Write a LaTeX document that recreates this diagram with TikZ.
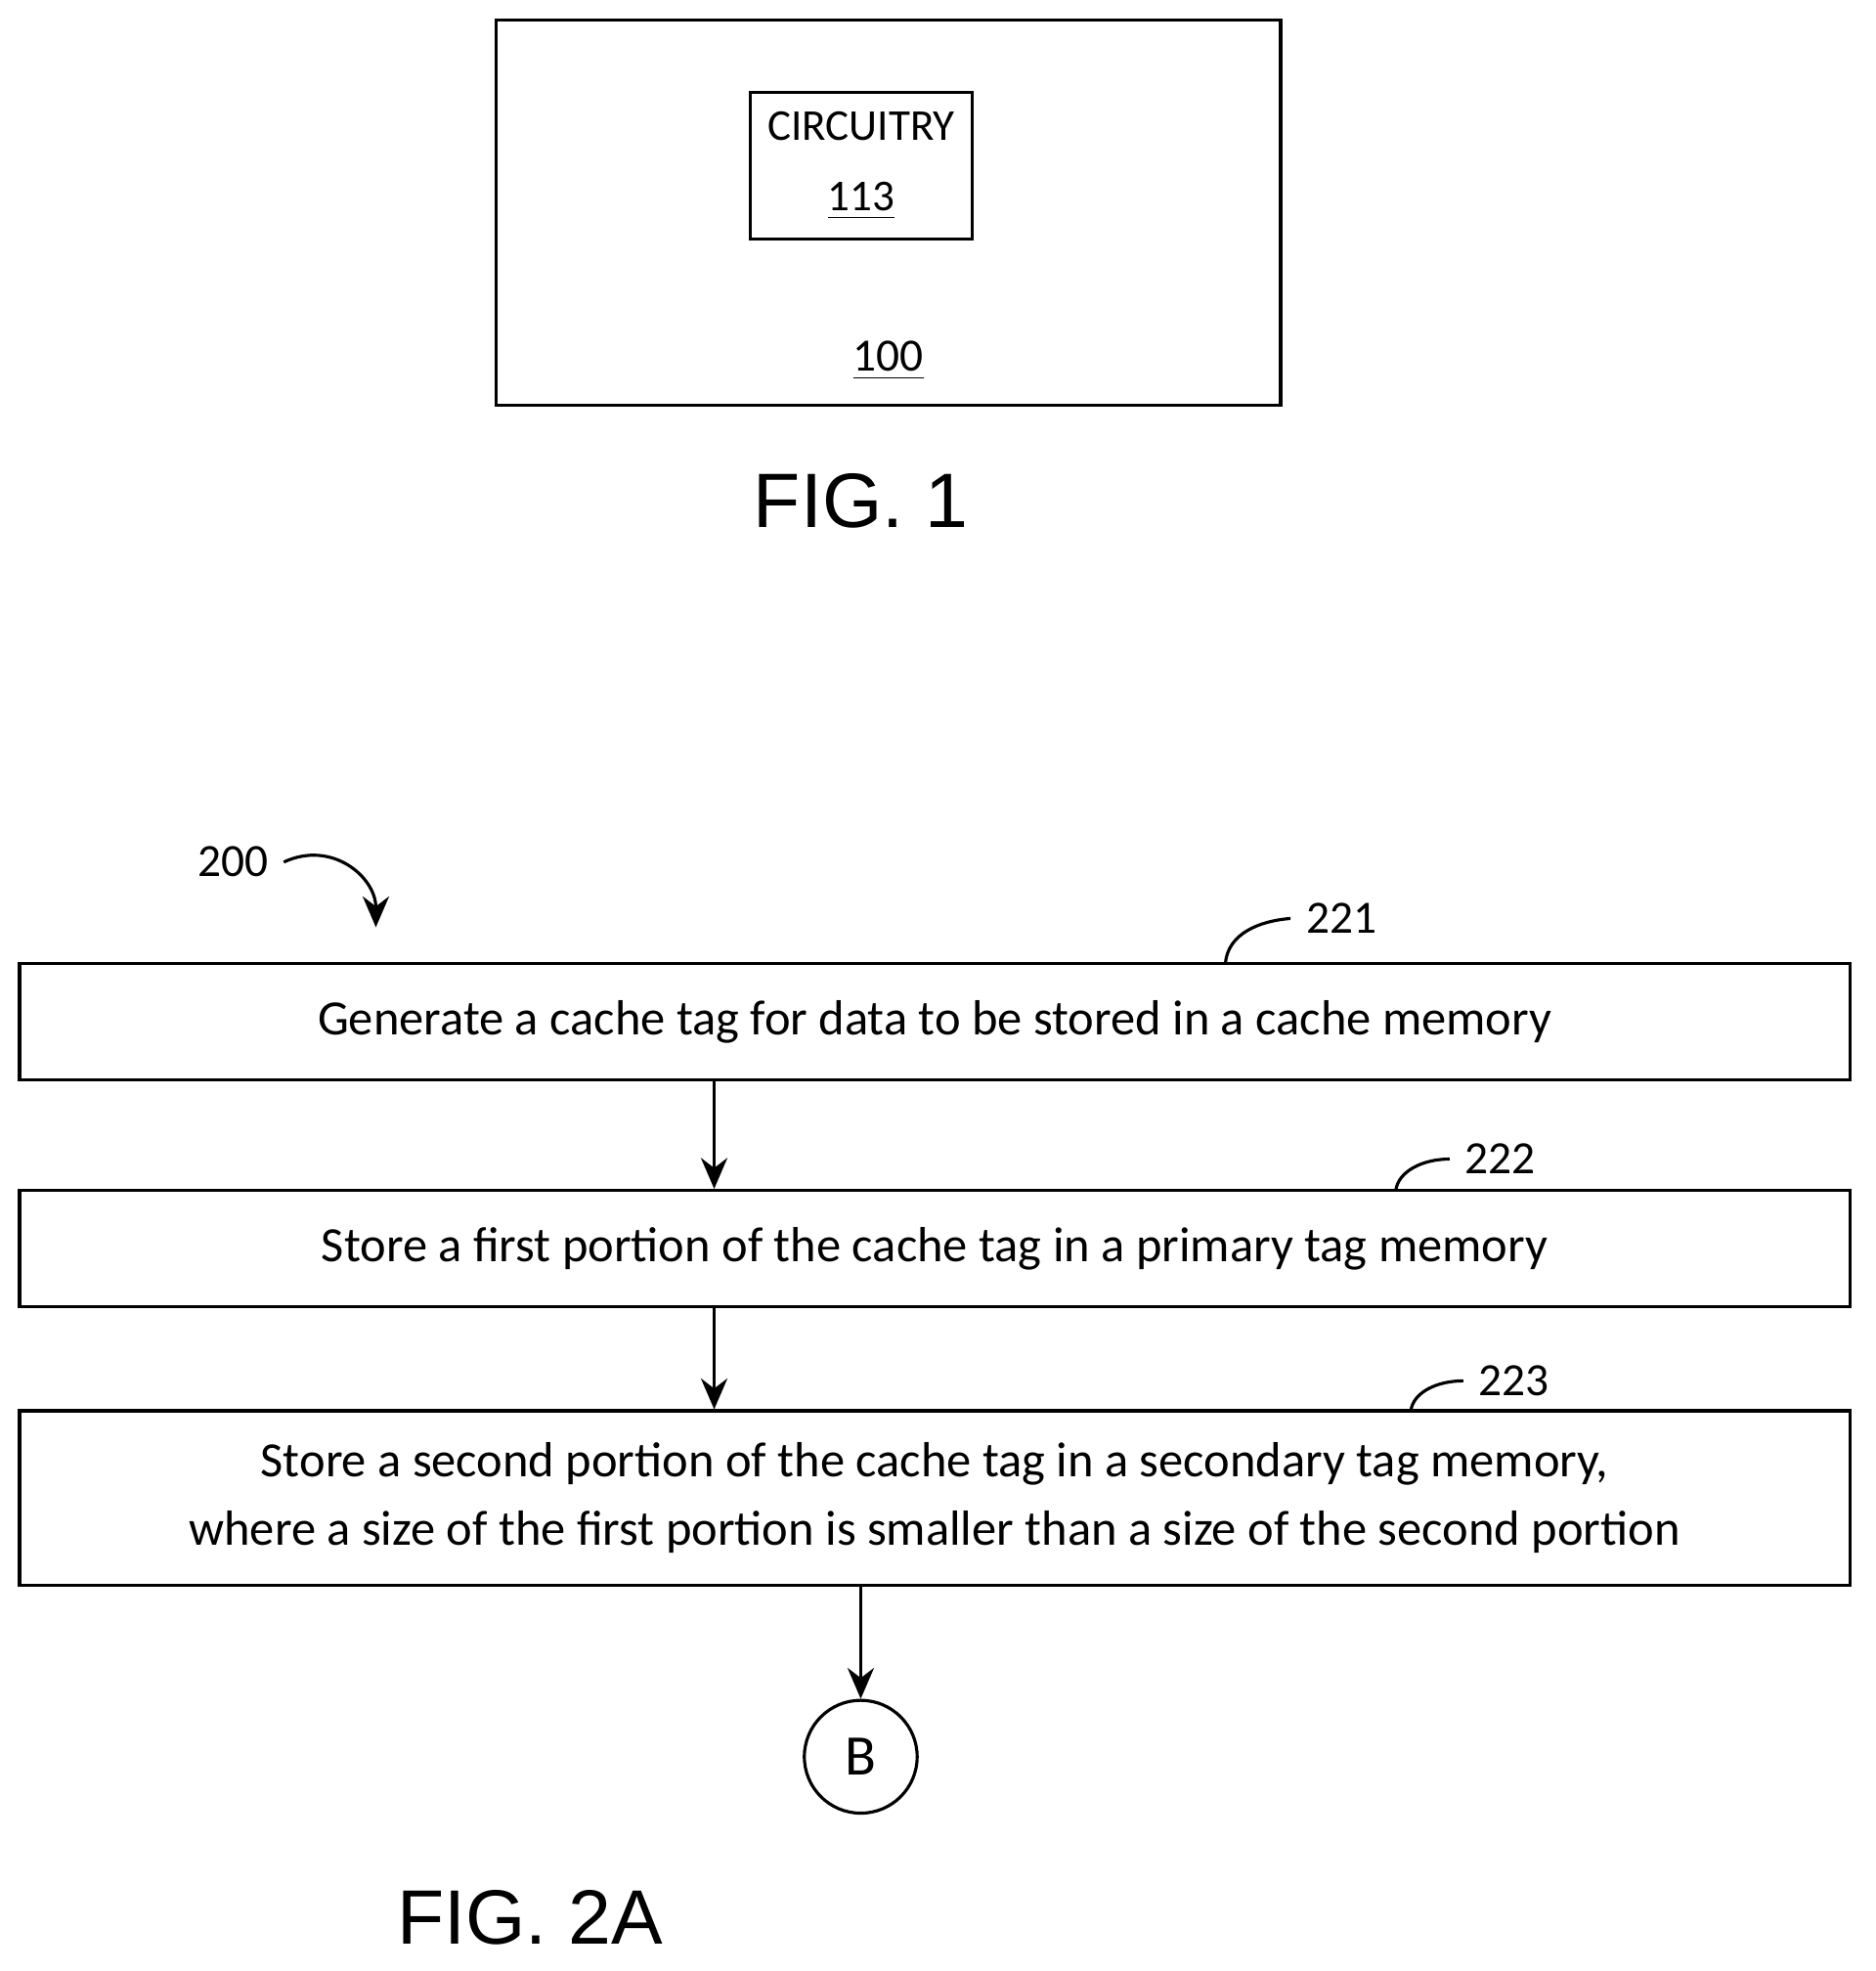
\documentclass[tikz,border=0pt]{standalone}
\usepackage{fontspec}
\setmainfont{Carlito}
\newfontfamily\figfont{Liberation Sans}
\usetikzlibrary{arrows.meta,positioning}

\begin{document}
\begin{tikzpicture}[
    x=0.01cm, y=-0.01cm,
    box/.style={rectangle, draw, line width=0.7pt, inner sep=0pt},
    flowstep/.style={box, minimum width=14.6cm, font=\fontsize{11.2}{15.5}\selectfont, align=center},
    ref/.style={font=\fontsize{10.5}{12}\selectfont},
    figlabel/.style={font=\figfont\fontsize{17.5}{20}\selectfont},
    arrow/.style={-{Stealth[length=7pt,width=6pt]}, line width=0.7pt},
    hook/.style={line width=0.7pt}
]
\useasboundingbox (0,0) rectangle (1497,1573);

% FIG. 1
\node[box, minimum width=6.26cm, minimum height=3.07cm] (device) at (709,169.5) {};
\node[ref] (devlbl) at (709,288) {\underline{100}};
\node[box, minimum width=1.77cm, minimum height=1.17cm, align=center, font=\fontsize{10}{16}\selectfont] (circuitry) at (687.5,132.5) {CIRCUITRY\\\underline{113}};
\node[figlabel] (fig1) at (687,400) {FIG. 1};

% FIG. 2A flow
\node[ref] (flow) at (186,688) {200};
\coordinate (flowend) at (300,740);
\draw[arrow] (flow.east) .. controls (265,670) and (300,700) .. (flowend);

\node[flowstep, minimum height=0.93cm] (gen) at (746,815.5) {Generate a cache tag for data to be stored in a cache memory};
\node[flowstep, minimum height=0.93cm] (first) at (746,996.5) {Store a first portion of the cache tag in a primary tag memory};
\node[flowstep, minimum height=1.39cm] (second) at (746,1195.5) {Store a second portion of the cache tag in a secondary tag memory,\\where a size of the first portion is smaller than a size of the second portion};
\node[circle, draw, line width=0.7pt, minimum size=0.9cm, font=\fontsize{13}{15}\selectfont] (connB) at (687,1402) {B};

% reference labels
\node[ref, anchor=west] (gen lbl) at (1030,733) {221};
\node[ref, anchor=west] (first lbl) at (1157,925) {222};
\node[ref, anchor=west] (second lbl) at (1168,1102) {223};
\draw[hook] (978,769) .. controls (980,745) and (1005,735) .. (gen lbl.west);
\draw[hook] (1114,950) .. controls (1116,935) and (1135,925) .. (first lbl.west);
\draw[hook] (1126,1126) .. controls (1128,1111) and (1147,1102) .. (second lbl.west);

% flow arrows
\draw[arrow] (gen.south -| 570,0) -- (first.north -| 570,0);
\draw[arrow] (first.south -| 570,0) -- (second.north -| 570,0);
\draw[arrow] (second.south -| connB) -- (connB.north);

\node[figlabel] (fig2a) at (423,1530) {FIG. 2A};
\end{tikzpicture}
\end{document}
